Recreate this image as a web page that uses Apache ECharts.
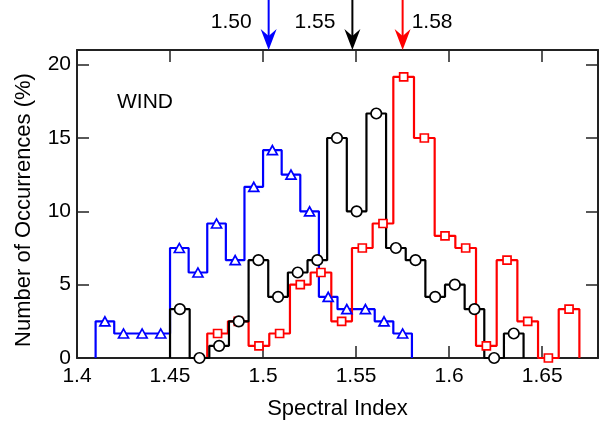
<!DOCTYPE html>
<html><head><meta charset="utf-8">
<script src="https://cdn.jsdelivr.net/npm/echarts@6/dist/echarts.min.js"></script>
<style>html,body{margin:0;padding:0;background:#fff}#c{width:605px;height:428px}</style>
</head><body><div id="c"></div>
<script>
// ---- data ----
const blueRange = [1.41, 1.58];
const blueValues = [2.5, 1.67, 1.67, 1.67, 7.5, 5.83, 9.17, 6.67, 11.67, 14.17, 12.5, 10.0, 4.17, 3.33, 3.33, 2.5, 1.67];
const blackRange = [1.45, 1.64];
const blackValues = [3.33, 0, 0.83, 2.5, 6.67, 4.17, 5.83, 6.67, 15.0, 10.0, 16.67, 7.5, 6.67, 4.17, 5.0, 3.33, 0, 1.67];
const redRange = [1.47, 1.67];
const redValues = [1.67, 2.5, 0.83, 1.67, 5.0, 5.83, 2.5, 7.5, 9.17, 19.17, 15.0, 8.33, 7.5, 0.83, 6.67, 2.5, 0, 3.33];
const meanValues = [1.503, 1.548, 1.575];
const meanLabels = ['1.50', '1.55', '1.58'];
const xTicks = [1.4, 1.45, 1.5, 1.55, 1.6, 1.65];
const yTicks = [0, 5, 10, 15, 20];
const xName = 'Spectral Index';
const yName = 'Number of Occurrences (%)';
const panelLabel = 'WIND';
const xMin = 1.4, xMax = 1.68, yMin = 0, yMax = 21;

// ---- helpers ----
function edges(range, n) {
  const w = (range[1] - range[0]) / n;
  const e = [];
  for (let i = 0; i <= n; i++) e.push(range[0] + i * w);
  return e;
}
function outline(range, vals) {
  const e = edges(range, vals.length);
  const pts = [[e[0], 0]];
  vals.forEach((v, i) => { pts.push([e[i], v]); pts.push([e[i + 1], v]); });
  pts.push([e[vals.length], 0]);
  return pts;
}
function centers(range, vals) {
  const e = edges(range, vals.length);
  return vals.map((v, i) => [(e[i] + e[i + 1]) / 2, v]);
}

const FONT = 'Liberation Sans, Arial, Helvetica, sans-serif';
const AX = '#222';
const chart = echarts.init(document.getElementById('c'), null, {renderer: 'canvas'});

function xFmt(v) {
  const t = xTicks.find(t => Math.abs(t - v) < 1e-6);
  return t === undefined ? '' : String(t);
}
function yFmt(v) {
  const t = yTicks.find(t => Math.abs(t - v) < 1e-6);
  return t === undefined ? '' : String(t);
}

const axisCommon = {
  type: 'value',
  axisLine: {show: true, onZero: false, lineStyle: {color: AX, width: 2}},
  axisTick: {show: true, inside: true, length: 12, lineStyle: {color: AX, width: 1.5}},
  splitLine: {show: false}
};

function lineSeries(range, vals, color, z) {
  return {
    type: 'line', data: outline(range, vals), symbol: 'none', z: z,
    lineStyle: {color: color, width: 2.2}, animation: false, clip: false
  };
}
function markSeries(range, vals, color, symbol, size, z) {
  return {
    type: 'scatter', data: centers(range, vals), symbol: symbol, symbolSize: size, z: z,
    itemStyle: {color: '#fff', borderColor: color, borderWidth: 1.7, opacity: 1},
    animation: false, clip: false
  };
}

chart.setOption({
  animation: false,
  backgroundColor: '#fff',
  grid: {left: 77, right: 7, top: 50, bottom: 70, containLabel: false},
  xAxis: [
    Object.assign({}, axisCommon, {
      min: xMin, max: xMax, interval: 0.05, position: 'bottom',
      axisLabel: {show: true, formatter: xFmt, fontSize: 21, color: '#000', fontFamily: FONT, margin: 8},
      name: xName, nameLocation: 'middle', nameGap: 40,
      nameTextStyle: {fontSize: 22, color: '#000', fontFamily: FONT}
    }),
    Object.assign({}, axisCommon, {
      min: xMin, max: xMax, interval: 0.05, position: 'top',
      axisLabel: {show: false}
    })
  ],
  yAxis: [
    Object.assign({}, axisCommon, {
      min: yMin, max: yMax, interval: 5, position: 'left',
      axisLabel: {show: true, formatter: yFmt, fontSize: 21, color: '#000', fontFamily: FONT, margin: 6},
      name: yName, nameLocation: 'middle', nameGap: 42,
      nameTextStyle: {fontSize: 22, color: '#000', fontFamily: FONT, padding: [0, 12, 0, 0]}
    }),
    Object.assign({}, axisCommon, {
      min: yMin, max: yMax, interval: 5, position: 'right',
      axisLabel: {show: false}
    })
  ],
  series: [
    lineSeries(blueRange, blueValues, '#0000ff', 2),
    lineSeries(redRange, redValues, '#ff0000', 3),
    lineSeries(blackRange, blackValues, '#000000', 4),
    markSeries(blueRange, blueValues, '#0000ff', 'triangle', [10, 9], 5),
    markSeries(redRange, redValues, '#ff0000', 'rect', 8, 6),
    markSeries(blackRange, blackValues, '#000000', 'circle', 10.5, 7)
  ]
});

// ---- annotations: arrows at the mean indices, panel label ----
const colors = ['#0000ff', '#000000', '#ff0000'];
const sides = ['left', 'left', 'right'];
const graphics = [];
const yTop = chart.convertToPixel({yAxisIndex: 0}, yMax);
meanValues.forEach((m, i) => {
  const x = chart.convertToPixel({xAxisIndex: 0}, m);
  graphics.push({type: 'line', shape: {x1: x, y1: 0, x2: x, y2: yTop - 8}, style: {stroke: colors[i], lineWidth: 2}, z: 10});
  graphics.push({type: 'polygon', shape: {points: [[x, yTop], [x - 8, yTop - 21], [x, yTop - 14], [x + 8, yTop - 21]]}, style: {fill: colors[i]}, z: 10});
  const left = sides[i] === 'left';
  graphics.push({
    type: 'text', x: left ? x - 17 : x + 9, y: 22, z: 10,
    style: {text: meanLabels[i], fill: '#000', font: '21px ' + FONT, textAlign: left ? 'right' : 'left', textVerticalAlign: 'middle'}
  });
});
graphics.push({
  type: 'text', x: 145, y: 102, z: 10,
  style: {text: panelLabel, fill: '#000', font: '21px ' + FONT, textAlign: 'center', textVerticalAlign: 'middle'}
});
chart.setOption({graphic: graphics});
</script>
</body></html>
